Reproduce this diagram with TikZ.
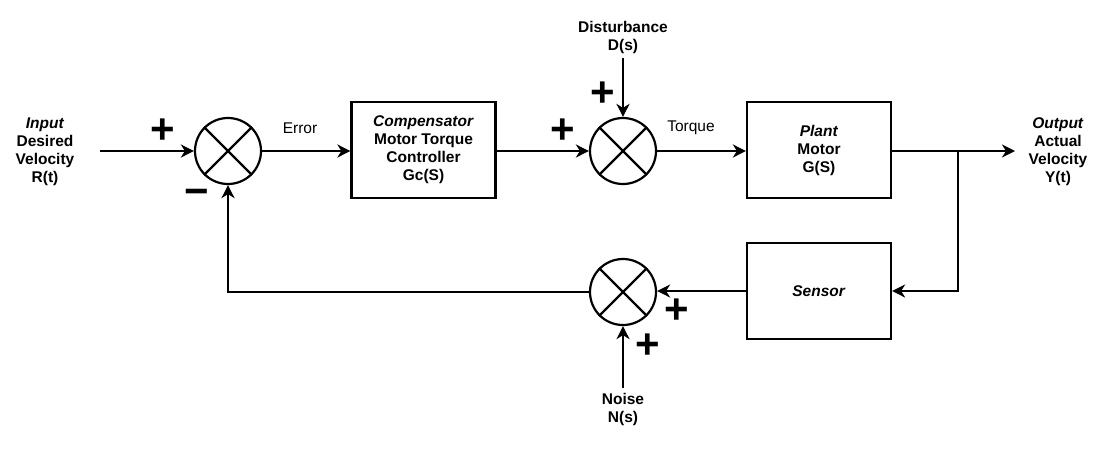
\documentclass[tikz,border=0pt]{standalone}
\usepackage{fontspec}
\setmainfont{Liberation Sans}
\usetikzlibrary{arrows.meta}
\begin{document}
\begin{tikzpicture}[x=1pt, y=-1pt, line width=2.2pt,
    >={Stealth[length=13pt, width=13pt, inset=4pt]},
    block/.style={draw, minimum width=144pt, minimum height=96pt, align=center,
        font=\bfseries\fontsize{15.5}{18}\selectfont},
    summer/.style={draw, circle, minimum size=66pt, inner sep=0pt},
    lbl/.style={align=center, font=\bfseries\fontsize{15.5}{18}\selectfont},
    sig/.style={font=\fontsize{15.5}{18}\selectfont},
    sgn/.style={font=\bfseries\fontsize{42}{42}\selectfont, inner sep=0pt}]
    \useasboundingbox (0,0) rectangle (1107,448);

    % summing junctions
    \node[summer] (s1) at (228,151) {};
    \node[summer] (s2) at (623,151) {};
    \node[summer] (s3) at (623,292) {};
    \foreach \s in {s1,s2,s3} {
        \draw (\s.north west) -- (\s.south east);
        \draw (\s.north east) -- (\s.south west);
    }

    % blocks
    \node[block] (comp) at (423.5,150) {\textit{Compensator}\\Motor Torque\\Controller\\Gc(S)};
    \node[block] (plant) at (819,150) {\textit{Plant}\\Motor\\G(S)};
    \node[block] (sensor) at (819,291) {\textit{Sensor}};

    % outer labels
    \node[lbl] (input) at (45,152) {\textit{Input}\\Desired\\Velocity\\R(t)};
    \node[lbl] (output) at (1058,152) {\textit{Output}\\Actual\\Velocity\\Y(t)};
    \node[lbl] (dist) at (623,37) {Disturbance\\D(s)};
    \node[lbl] (noise) at (623,409) {Noise\\N(s)};
    \node[sig] (err) at (300,128) {Error};
    \node[sig] (torq) at (691,128) {Torque};

    % signs
    \node[sgn] (p1) at (163,131) {+};
    \node[sgn] (m1) at (197,197) {−};
    \node[sgn] (p2) at (563,131) {+};
    \node[sgn] (p3) at (603,94) {+};
    \node[sgn] (p4) at (677,311) {+};
    \node[sgn] (p5) at (648,346) {+};

    % forward path
    \coordinate (rin) at (100,151);
    \coordinate (yout) at (1015,151);
    \coordinate (br) at (958,151);
    \draw[->] (rin) -- (s1.west);
    \draw[->] (s1.east) -- (comp.west |- s1);
    \draw[->] (comp.east |- s2) -- (s2.west);
    \draw[->] (dist.south) -- (s2.north);
    \draw[->] (s2.east) -- (plant.west |- s2);
    \draw[->] (plant.east |- br) -- (yout);

    % feedback path
    \draw[->] (br) |- (sensor.east);
    \draw[->] (sensor.west) -- (s3.east |- sensor);
    \draw[->] (noise.north) -- (s3.south);
    \draw[->] (s3.west) -| (s1.south);
\end{tikzpicture}
\end{document}
